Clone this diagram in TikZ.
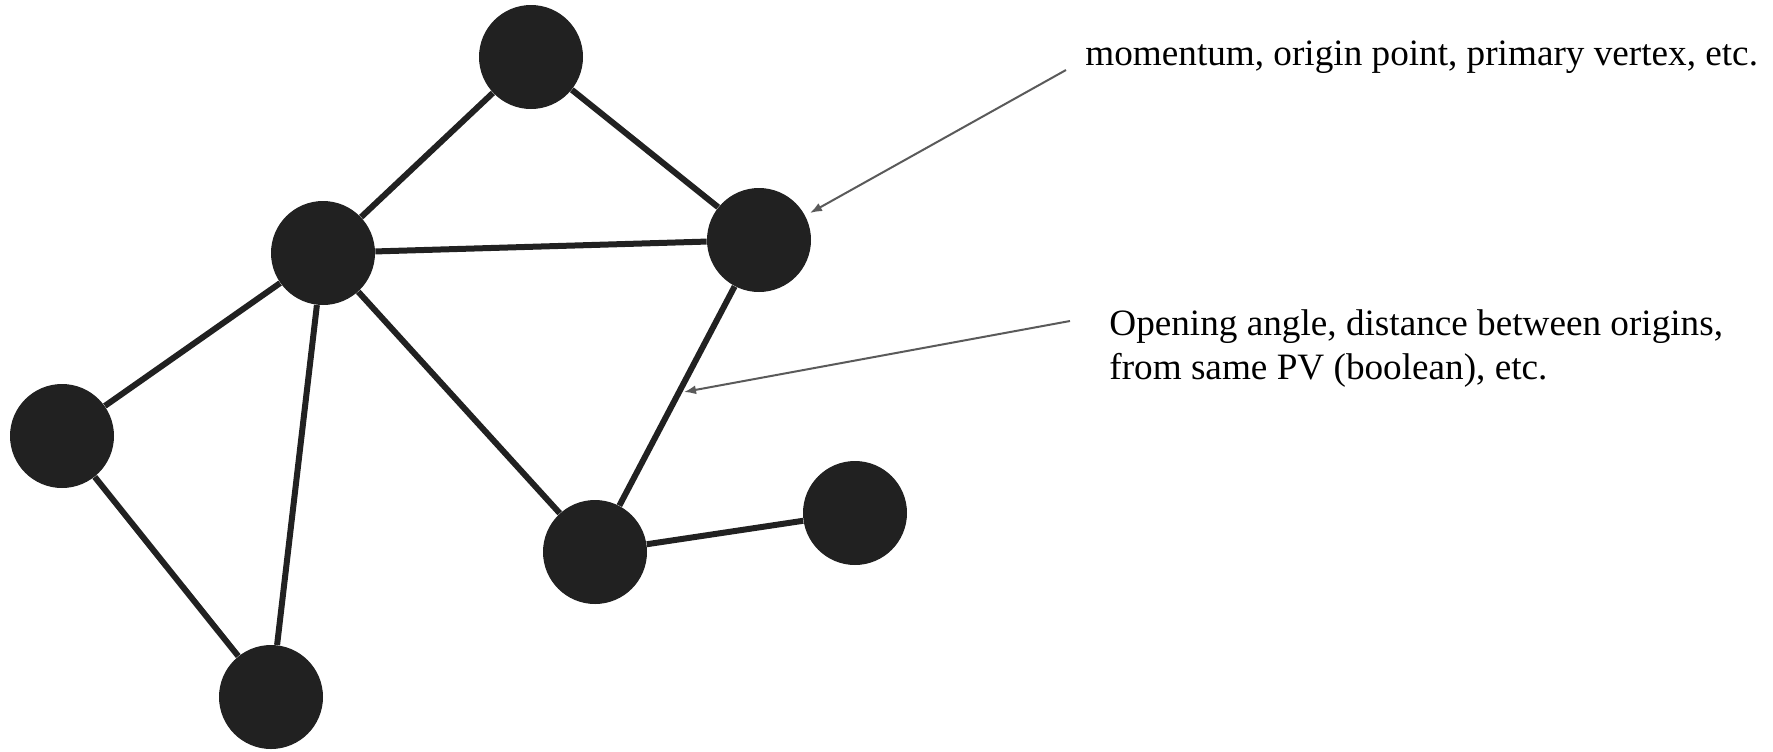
\documentclass[tikz,border=0pt]{standalone}
\usepackage{fontspec}
\setmainfont{Liberation Serif}
\usetikzlibrary{arrows.meta}
\definecolor{nodeblack}{HTML}{212121}
\definecolor{arrowgray}{HTML}{5A5A5A}

\begin{document}
\begin{tikzpicture}[x=0.5pt, y=-0.5pt,
        vertex/.style={circle, fill=nodeblack, minimum size=52pt, inner sep=0pt},
        edge/.style={draw=nodeblack, line width=3pt},
        pointer/.style={draw=arrowgray, line width=1pt, -{Latex[length=6pt,width=4.5pt]}},
        note/.style={font=\fontsize{18.6}{22}\selectfont, inner sep=0pt}]
        \useasboundingbox (0,0) rectangle (1773,751);

        % the graph
        \node[vertex] (top) at (531,57) {};
        \node[vertex] (hub) at (323,253) {};
        \node[vertex] (right) at (759,240) {};
        \node[vertex] (left) at (62,436) {};
        \node[vertex] (bottom) at (271,697) {};
        \node[vertex] (centre) at (595,552) {};
        \node[vertex] (end) at (855,513) {};

        \draw[edge] (top) -- (hub) (top) -- (right) (hub) -- (right)
            (hub) -- (left) (hub) -- (bottom) (hub) -- (centre)
            (right) -- (centre) (left) -- (bottom) (centre) -- (end);

        % labels
        \node[note, anchor=base west] (nodefeat) at (1085,65) {momentum, origin point, primary vertex, etc.};
        \node[note, anchor=base west, align=left] (edgefeat) at (1109,379) {Opening angle, distance between origins,\\from same PV (boolean), etc.};

        \coordinate (nodefeat tail) at (1066,70);
        \coordinate (nodefeat tip) at (810,213);
        \coordinate (edgefeat tail) at (1070,321);
        \coordinate (edgefeat tip) at (684,392);
        \draw[pointer] (nodefeat tail) -- (nodefeat tip);
        \draw[pointer] (edgefeat tail) -- (edgefeat tip);
    \end{tikzpicture}
\end{document}
